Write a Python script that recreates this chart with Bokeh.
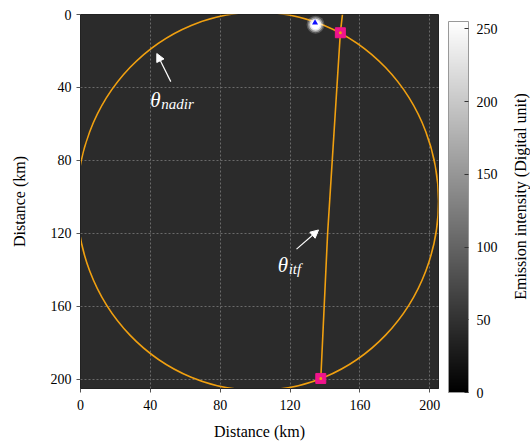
from bokeh.plotting import figure
from bokeh.layouts import row
from bokeh.models import (Range1d, LinearColorMapper, ColorBar, FixedTicker, Label,
                          Arrow, NormalHead)
from bokeh.palettes import Greys256
from bokeh.embed import file_html
from bokeh.resources import INLINE

# ---------------- data ----------------
x_ticks = [0, 40, 80, 120, 160, 200]
y_ticks = [0, 40, 80, 120, 160, 200]
cbar_ticks = [0, 50, 100, 150, 200, 250]
x_extent = [0, 205]
y_extent = [0, 205]
intensity_range = [0, 255]
background_level = [43]

# field of view circle (nadir)
fov_cx = [101.5]
fov_cy = [102.4]
fov_width = [207.0]
fov_height = [207.4]

# interference line
itf_x = [150.0, 148.8, 141.5, 137.6]
itf_y = [0.0, 10.0, 120.0, 199.5]

# intersections
cross_x = [148.8, 137.6]
cross_y = [10.0, 199.5]

# bright spot and nadir marker
spot_x = [134.6]
spot_y = [5.6]
nadir_x = [134.3]
nadir_y = [4.5]

# annotation anchors
nadir_text_xy = [40.0, 46.6]
nadir_arrow = [51.7, 36.8, 43.7, 21.4]
itf_text_xy = [112.9, 137.4]
itf_arrow = [123.7, 128.6, 136.3, 118.1]

FONT = "Liberation Serif"
ORANGE = "#f0a010"
PINK = "#f0148c"

p = figure(frame_width=358, frame_height=374,
           x_range=Range1d(x_extent[0], x_extent[1]),
           y_range=Range1d(y_extent[1], y_extent[0]),
           output_backend="svg", toolbar_location=None,
           min_border_left=80, min_border_right=64,
           min_border_top=14, min_border_bottom=56)

p.background_fill_color = Greys256[background_level[0]]
p.border_fill_color = "white"
p.outline_line_color = "#222222"
p.outline_line_width = 1

for g in (p.xgrid, p.ygrid):
    g.grid_line_color = "#6a6a6a"
    g.grid_line_dash = "2 2"
    g.grid_line_width = 1
p.xaxis.ticker = FixedTicker(ticks=x_ticks)
p.yaxis.ticker = FixedTicker(ticks=y_ticks)

for ax in (p.xaxis, p.yaxis):
    ax.axis_line_color = "#222222"
    ax.major_tick_line_color = "#555555"
    ax.major_tick_in = 0
    ax.major_tick_out = 4
    ax.minor_tick_line_color = None
    ax.major_label_text_font = FONT
    ax.major_label_text_font_size = "14px"
    ax.major_label_text_color = "black"
    ax.axis_label = "Distance (km)"
    ax.axis_label_text_font = FONT
    ax.axis_label_text_font_size = "16px"
    ax.axis_label_text_font_style = "normal"
    ax.axis_label_text_color = "black"

p.xaxis.major_label_standoff = 7
p.xaxis.axis_label_standoff = 10
p.yaxis.major_label_standoff = 5
p.yaxis.axis_label_standoff = 20

# circle
p.ellipse(x=fov_cx, y=fov_cy, width=fov_width, height=fov_height,
          fill_alpha=0, line_color=ORANGE, line_width=1.6)

# interference line
p.line(itf_x, itf_y, line_color=ORANGE, line_width=1.6)

# intersections
p.scatter(cross_x, cross_y, marker="square", size=10, fill_color=PINK,
          line_color=PINK)
p.scatter(cross_x, cross_y, marker="circle", size=3, fill_color=ORANGE,
          line_color=None)

# bright spot glow
for s, a in [(18, 0.2), (15, 0.4), (12, 0.75), (9, 1.0)]:
    p.scatter(spot_x, spot_y, marker="circle", size=s, fill_color="white",
              fill_alpha=a, line_color=None)
p.scatter(nadir_x, nadir_y, marker="triangle", size=6, fill_color="#1010ff",
          line_color=None)

# annotations
def theta_label(xy, sub):
    p.add_layout(Label(x=xy[0], y=xy[1], text="θ", text_font=FONT,
                       text_font_style="italic", text_font_size="21px",
                       text_color="white", text_baseline="alphabetic"))
    p.add_layout(Label(x=xy[0], y=xy[1], x_offset=11, y_offset=-4, text=sub,
                       text_font=FONT, text_font_style="italic",
                       text_font_size="15px", text_color="white",
                       text_baseline="alphabetic"))

theta_label(nadir_text_xy, "nadir")
theta_label(itf_text_xy, "itf")

for a in (nadir_arrow, itf_arrow):
    p.add_layout(Arrow(x_start=a[0], y_start=a[1], x_end=a[2], y_end=a[3],
                       line_color="white", line_width=1.2,
                       end=NormalHead(size=8, fill_color="white",
                                      line_color="white")))

# colorbar
mapper = LinearColorMapper(palette=Greys256, low=intensity_range[0],
                           high=intensity_range[1])
cb = ColorBar(color_mapper=mapper, ticker=FixedTicker(ticks=cbar_ticks),
              width=20, height=371, margin=0, padding=10,
              location=(0, -14),
              bar_line_color="#999999", border_line_color=None,
              background_fill_alpha=0,
              major_tick_line_color="#333333", major_tick_in=4,
              major_tick_out=0, minor_tick_line_color=None,
              label_standoff=8,
              major_label_text_font=FONT, major_label_text_font_size="14px",
              major_label_text_color="black")
p.add_layout(cb, "right")

# colorbar title as a narrow companion panel (reads bottom-to-top)
t = figure(width=18, height=440, output_backend="svg", toolbar_location=None,
           min_border_left=0, min_border_right=0,
           min_border_top=8, min_border_bottom=62,
           x_range=Range1d(0, 1), y_range=Range1d(0, 1))
t.xaxis.visible = False
t.xgrid.visible = False
t.ygrid.visible = False
t.outline_line_color = None
t.background_fill_alpha = 0
t.border_fill_color = "white"
t.yaxis.ticker = FixedTicker(ticks=[])
t.yaxis.axis_line_color = None
t.yaxis.major_tick_line_color = None
t.yaxis.minor_tick_line_color = None
t.yaxis.major_tick_in = 0
t.yaxis.major_tick_out = 0
t.yaxis.major_label_standoff = 0
t.yaxis.axis_label_standoff = 0
t.yaxis.axis_label = "Emission intensity (Digital unit)"
t.yaxis.axis_label_text_font = FONT
t.yaxis.axis_label_text_font_size = "16px"
t.yaxis.axis_label_text_font_style = "normal"
t.yaxis.axis_label_text_color = "black"

layout = row(p, t, spacing=0)
open("out.html", "w").write(file_html(layout, INLINE))
